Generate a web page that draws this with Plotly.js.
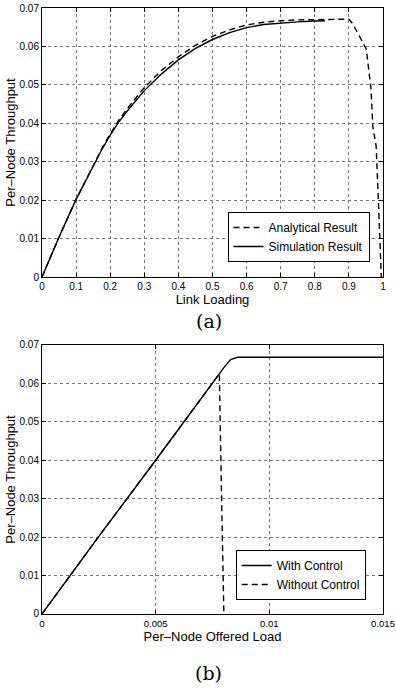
<!DOCTYPE html>
<html>
<head>
<meta charset="utf-8">
<script src="https://cdn.plot.ly/plotly-3.0.1.min.js"></script>
<style>html,body{margin:0;padding:0;background:#fff;}#chart{width:396px;height:688px;}</style>
</head>
<body>
<div id="chart"></div>
<script>
// Panel (a): Link Loading vs Per-Node Throughput
var simX = [0, 0.05, 0.1, 0.15, 0.175, 0.2, 0.225, 0.25, 0.3, 0.35, 0.4, 0.45, 0.5, 0.55, 0.6, 0.65, 0.7, 0.75, 0.8, 0.83];
var simY = [0, 0.0104, 0.0202, 0.0289, 0.0331, 0.0369, 0.0403, 0.0432, 0.0485, 0.0528, 0.0565, 0.0595, 0.0618, 0.0636, 0.0649, 0.0657, 0.0661, 0.0664, 0.0666, 0.0667];
var anaX = [0, 0.05, 0.1, 0.15, 0.175, 0.2, 0.225, 0.25, 0.3, 0.35, 0.4, 0.45, 0.5, 0.55, 0.6, 0.65, 0.7, 0.75, 0.8, 0.85, 0.9, 0.912, 0.93, 0.951, 0.965, 0.97, 0.98, 0.987, 0.991, 0.995];
var anaY = [0, 0.0104, 0.0202, 0.029, 0.0333, 0.0372, 0.0408, 0.0438, 0.0493, 0.0537, 0.0573, 0.0603, 0.0626, 0.0643, 0.0656, 0.0663, 0.0667, 0.0669, 0.067, 0.0671, 0.0671, 0.0658, 0.0627, 0.0593, 0.0488, 0.0392, 0.034, 0.021, 0.0097, 0];
// Panel (b): Per-Node Offered Load vs Per-Node Throughput
var ctrlX = [0, 0.0025, 0.005, 0.0075, 0.008, 0.0083, 0.0086, 0.015];
var ctrlY = [0, 0.0202, 0.04, 0.0601, 0.0641, 0.0662, 0.0668, 0.0668];
var noCtrlX = [0, 0.0025, 0.005, 0.0075, 0.0078, 0.0079, 0.008];
var noCtrlY = [0, 0.0202, 0.04, 0.0601, 0.0625, 0.03, 0];

var xTicksA = [0, 0.1, 0.2, 0.3, 0.4, 0.5, 0.6, 0.7, 0.8, 0.9, 1];
var xLabelsA = ['0', '0.1', '0.2', '0.3', '0.4', '0.5', '0.6', '0.7', '0.8', '0.9', '1'];
var xTicksB = [0, 0.005, 0.01, 0.015];
var xLabelsB = ['0', '0.005', '0.01', '0.015'];
var yTicks = [0, 0.01, 0.02, 0.03, 0.04, 0.05, 0.06, 0.07];
var yLabels = ['0', '0.01', '0.02', '0.03', '0.04', '0.05', '0.06', '0.07'];

var legendA = ['Analytical Result', 'Simulation Result'];
var legendB = ['With Control', 'Without Control'];

var dashPat = '6px,4px';
var traces = [
  {x: anaX, y: anaY, name: legendA[0], mode: 'lines', line: {color: '#000', width: 1.4, dash: dashPat}, xaxis: 'x', yaxis: 'y', legend: 'legend'},
  {x: simX, y: simY, name: legendA[1], mode: 'lines', line: {color: '#000', width: 1.4}, xaxis: 'x', yaxis: 'y', legend: 'legend'},
  {x: ctrlX, y: ctrlY, name: legendB[0], mode: 'lines', line: {color: '#000', width: 1.4}, xaxis: 'x2', yaxis: 'y2', legend: 'legend2'},
  {x: noCtrlX, y: noCtrlY, name: legendB[1], mode: 'lines', line: {color: '#000', width: 1.4, dash: dashPat}, xaxis: 'x2', yaxis: 'y2', legend: 'legend2'}
];

var tickFont = {family: 'Liberation Sans, Arial, sans-serif', size: 10, color: '#000'};
var titleFont = {family: 'Liberation Sans, Arial, sans-serif', size: 13, color: '#000'};
function ax(extra) {
  var base = {
    showline: true, linecolor: '#000', linewidth: 1, mirror: 'ticks',
    ticks: 'inside', ticklen: 4, tickcolor: '#000', tickwidth: 1,
    showgrid: true, gridcolor: '#777', griddash: 'dot', gridwidth: 1,
    zeroline: false, tickfont: tickFont, fixedrange: true, tickmode: 'array',
    ticklabeloverflow: 'allow'
  };
  for (var k in extra) base[k] = extra[k];
  return base;
}

var layout = {
  width: 396, height: 688,
  margin: {l: 42, r: 13, t: 8, b: 74},
  paper_bgcolor: '#fff', plot_bgcolor: '#fff',
  font: {family: 'Liberation Sans, Arial, sans-serif', color: '#000'},
  xaxis: ax({domain: [0, 1], anchor: 'y', range: [0, 1], tickvals: xTicksA, ticktext: xLabelsA,
    title: {text: 'Link Loading', font: titleFont, standoff: 2}}),
  yaxis: ax({domain: [0.5561, 1], anchor: 'x', range: [0, 0.07], tickvals: yTicks, ticktext: yLabels,
    title: {text: 'Per–Node Throughput', font: titleFont, standoff: 0}}),
  xaxis2: ax({domain: [0, 1], anchor: 'y2', range: [0, 0.015], tickvals: xTicksB, ticktext: xLabelsB,
    tickfont: {family: 'Liberation Sans, Arial, sans-serif', size: 9.6, color: '#000'},
    title: {text: 'Per–Node Offered Load', font: titleFont, standoff: 2}}),
  yaxis2: ax({domain: [0, 0.4439], anchor: 'x2', range: [0, 0.07], tickvals: yTicks, ticktext: yLabels,
    title: {text: 'Per–Node Throughput', font: titleFont, standoff: 0}}),
  legend: {x: 0.544, y: 0.6634, xanchor: 'left', yanchor: 'top', bgcolor: '#fff',
    bordercolor: '#000', borderwidth: 1, font: {family: 'Liberation Sans, Arial, sans-serif', size: 12, color: '#000'},
    tracegroupgap: 0, itemwidth: 30},
  legend2: {x: 0.568, y: 0.1056, xanchor: 'left', yanchor: 'top', bgcolor: '#fff',
    bordercolor: '#000', borderwidth: 1, font: {family: 'Liberation Sans, Arial, sans-serif', size: 12, color: '#000'},
    tracegroupgap: 0, itemwidth: 30},
  annotations: [
    {text: '(a)', xref: 'paper', yref: 'paper', x: 0.49, y: 1 - (321 - 8) / 606, xanchor: 'center', yanchor: 'middle',
      showarrow: false, font: {family: 'DejaVu Serif, Liberation Serif, serif', size: 19, color: '#000'}},
    {text: '(b)', xref: 'paper', yref: 'paper', x: 0.488, y: 1 - (673 - 8) / 606, xanchor: 'center', yanchor: 'middle',
      showarrow: false, font: {family: 'DejaVu Serif, Liberation Serif, serif', size: 19, color: '#000'}}
  ],
  showlegend: true
};

Plotly.newPlot('chart', traces, layout, {displayModeBar: false, staticPlot: true});
</script>
</body>
</html>
